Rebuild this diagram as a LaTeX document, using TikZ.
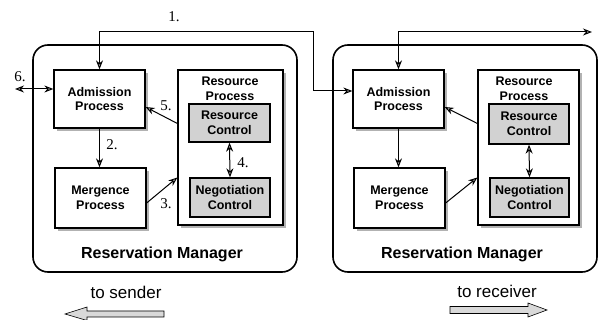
\documentclass[tikz,border=0pt]{standalone}
\usepackage{fontspec}
\setmainfont{Liberation Serif}
\setsansfont{Liberation Sans}
\usetikzlibrary{arrows.meta,shadows,calc}
\tikzset{
  x=1pt,y=-1pt,
  boxtext/.style={font=\sffamily\bfseries\fontsize{12.5}{14.5}\selectfont,align=center},
  proc/.style={boxtext,draw=black,line width=1.3pt,fill=white,inner sep=0pt,
     drop shadow={shadow xshift=3pt,shadow yshift=-3pt,fill=gray!60,opacity=1}},
  ctrl/.style={boxtext,draw=black,line width=1.3pt,fill=gray!35,inner sep=0pt},
  outer/.style={draw=black,line width=1.6pt,rounded corners=15pt},
  tip/.style={},
  conn/.style={line width=1pt,-{Stealth[length=9pt,width=7pt,fill=gray!40]}},
  dconn/.style={line width=1pt,{Stealth[length=9pt,width=7pt,fill=gray!40]}-{Stealth[length=9pt,width=7pt,fill=gray!40]}},
  numlab/.style={font=\fontsize{15}{17}\selectfont},
  mgr/.style={font=\sffamily\bfseries\fontsize{16}{18}\selectfont},
  dirlab/.style={font=\sffamily\fontsize{17}{19}\selectfont},
  blockarrow/.style={draw=black,line width=0.6pt,fill=gray!30}
}
\begin{document}
\begin{tikzpicture}
\useasboundingbox (0,0) rectangle (600,320);
\fill[white] (0,0) rectangle (600,320);
% ---------- left manager ----------
\draw[outer] (33,45) rectangle (297,272);
\node[proc,minimum width=91pt,minimum height=58pt] (Ladm) at (99.5,99) {Admission\\Process};
\node[proc,minimum width=91pt,minimum height=60pt] (Lmer) at (100.5,198) {Mergence\\Process};
\node[proc,minimum width=105pt,minimum height=155pt] (Lres) at (230.5,147.5) {};
\node[boxtext] (Lrest) at (230,89) {Resource\\Process};
\node[ctrl,minimum width=81pt,minimum height=38pt] (Lrc) at (229.5,123) {Resource\\Control};
\node[ctrl,minimum width=80pt,minimum height=39pt] (Lneg) at (230,197.5) {Negotiation\\Control};
\node[mgr] (Lmgr) at (162,254) {Reservation Manager};
% ---------- right manager ----------
\draw[outer] (333,45) rectangle (597,272);
\node[proc,minimum width=91pt,minimum height=58pt] (Radm) at (398.5,99) {Admission\\Process};
\node[proc,minimum width=91pt,minimum height=60pt] (Rmer) at (399.5,198) {Mergence\\Process};
\node[proc,minimum width=101pt,minimum height=155pt] (Rres) at (528.5,147.5) {};
\node[boxtext] (Rrest) at (524,89) {Resource\\Process};
\node[ctrl,minimum width=80pt,minimum height=40pt] (Rrc) at (529,124) {Resource\\Control};
\node[ctrl,minimum width=79pt,minimum height=39pt] (Rneg) at (529.5,197.5) {Negotiation\\Control};
\node[mgr] (Rmgr) at (462,254) {Reservation Manager};
% ---------- connectors left ----------
\coordinate (c1) at (313,32);
\coordinate (c6) at (15,89);
\coordinate (r1) at (592,32);
\draw[dconn] (Ladm.north) |- (c1) |- ([yshift=8pt]Radm.west);
\draw[dconn] (c6) -- ([yshift=10pt]Ladm.west);
\draw[conn] ([yshift=24pt]Lres.west) -- ([yshift=-8pt]Ladm.east);
\draw[conn] (Ladm.south) -- (Ladm.south |- Lmer.north);
\draw[conn] ([yshift=-5pt]Lmer.east) -- ([yshift=-30pt]Lres.west);
\draw[dconn] (Lrc.south) -- (Lneg.north);
% ---------- connectors right ----------
\draw[dconn] (Radm.north) |- (r1);
\draw[conn] ([yshift=24pt]Rres.west) -- ([yshift=-8pt]Radm.east);
\draw[conn] (Radm.south) -- (Radm.south |- Rmer.north);
\draw[conn] ([yshift=-5pt]Rmer.east) -- ([yshift=-30pt]Rres.west);
\draw[dconn] (Rrc.south) -- (Rneg.north);
% ---------- number labels ----------
\node[numlab] (n1) at (174,17) {1.};
\node[numlab] (n6) at (20,77) {6.};
\node[numlab] (n5) at (166,106) {5.};
\node[numlab] (n2) at (112,145) {2.};
\node[numlab] (n3) at (166,204) {3.};
\node[numlab] (n4) at (243,163) {4.};
% ---------- direction labels ----------
\node[dirlab] (ts) at (126,292) {to sender};
\node[dirlab] (tr) at (497,291) {to receiver};
\draw[blockarrow] (65,314) -- (87,307) -- (87,311) -- (164,311) -- (164,317) -- (87,317) -- (87,320.5) -- cycle;
\draw[blockarrow] (450,306.5) -- (528,306.5) -- (528,303) -- (547,310) -- (528,317) -- (528,313.5) -- (450,313.5) -- cycle;
\end{tikzpicture}
\end{document}
